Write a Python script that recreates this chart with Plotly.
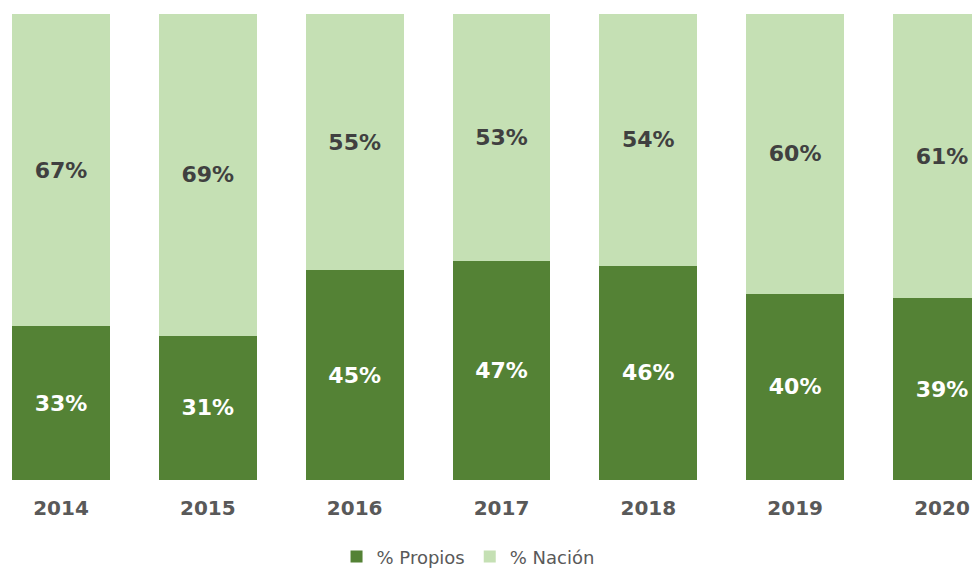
import plotly.graph_objects as go

years = ["2014", "2015", "2016", "2017", "2018", "2019", "2020"]
propios = [33, 31, 45, 47, 46, 40, 39]
nacion = [67, 69, 55, 53, 54, 60, 61]

dark = "#548235"
light = "#C5E0B4"
font_family = "DejaVu Sans, Verdana, sans-serif"

fig = go.Figure()
fig.add_trace(go.Bar(
    x=years, y=propios, name="% Propios", marker=dict(color=dark, line=dict(width=0)),
    width=0.667, text=[f"<b>{v}%</b>" for v in propios], textposition="inside",
    insidetextanchor="middle", textangle=0,
    textfont=dict(family=font_family, size=22, color="white"),
))
fig.add_trace(go.Bar(
    x=years, y=nacion, name="% Nación", marker=dict(color=light, line=dict(width=0)),
    width=0.667, text=[f"<b>{v}%</b>" for v in nacion], textposition="inside",
    insidetextanchor="middle", textangle=0,
    textfont=dict(family=font_family, size=22, color="#404040"),
))

fig.update_layout(
    barmode="stack",
    width=972, height=580,
    margin=dict(l=0, r=0, t=6, b=108),
    plot_bgcolor="white", paper_bgcolor="white",
    font=dict(family=font_family, color="#595959"),
    xaxis=dict(type="category", range=[-0.361, 6.259], showgrid=False, zeroline=False,
               showline=False, ticks="outside", ticklen=10, tickcolor="rgba(0,0,0,0)",
               tickfont=dict(family=font_family, size=20, color="#595959"),
               tickvals=years, ticktext=[f"<b>{y}</b>" for y in years]),
    yaxis=dict(range=[0, 100], visible=False),
    legend=dict(orientation="h", x=0.338, xanchor="left", y=-0.165, yanchor="middle",
                font=dict(family=font_family, size=18, color="#595959"),
                itemwidth=30, traceorder="normal"),
    showlegend=True,
)

fig.write_html("out.html")
